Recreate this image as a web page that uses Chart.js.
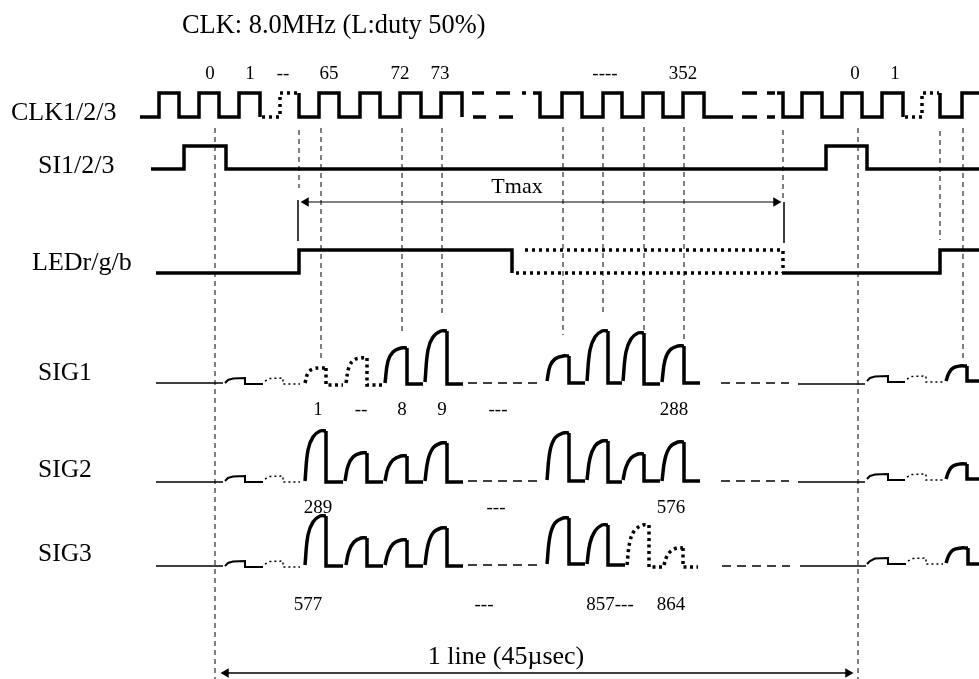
<!DOCTYPE html>
<html lang="en">
<head>
    <meta charset="UTF-8">
    <title>CLK timing</title>
    <script src="https://cdn.jsdelivr.net/npm/chart.js"></script>
    <style>
        html, body { margin: 0; padding: 0; background: #fff; }
        canvas { display: block; }
    </style>
</head>
<body>
    <canvas id="timing" width="979" height="679"></canvas>

    <script>
        // x = time along the sheet, y = level down the sheet (both)
        const clkSolid = [
            [140,117],[159,117],[159,93],[179,93],[179,117],[199,117],[199,93],[219,93],[219,117],[239,117],[239,93],[260,93],[260,117],null,
            [299,93],[299,117],[319,117],[319,93],[339,93],[339,117],[360,117],[360,93],[380,93],[380,117],[400,117],[400,93],[421,93],[421,117],[441,117],[441,93],[462,93],[462,117],null,
            [533,93],[540,93],[540,117],[562,117],[562,93],[582,93],[582,117],[603,117],[603,93],[622,93],[622,117],[643,117],[643,93],[663,93],[663,117],[683,117],[683,93],[704,93],[704,117],[733,117],null,
            [777,93],[783,93],[783,117],[802,117],[802,93],[822,93],[822,117],[842,117],[842,93],[862,93],[862,117],[882,117],[882,93],[903,93],[903,117],null,
            [940,93],[940,117],[962,117],[962,93],[979,93]
        ];
        const clkDash = [
            [472,93],[484,93],null,[473,117],[486,117],null,[496,93],[510,93],null,[499,117],[513,117],null,[522,93],[526,93],null,
            [742,93],[757,93],null,[742,117],[757,117],null,[767,93],[775,93],null,[767,117],[775,117]
        ];
        const clkDots = [
            [262,117],[280,117],[280,93],[298,93],null,
            [905,117],[922,117],[922,93],[939,93]
        ];
        const siLine = [
            [151,169],[184,169],[184,146],[226,146],[226,169],[826,169],[826,146],[867,146],[867,169],[979,169]
        ];
        const ledSolid = [
            [156,273],[299,273],[299,250],[512,250],[512,273],null,
            [783,273],[940,273],[940,250],[979,250]
        ];
        const ledDots = [
            [516,273],[783,273],null,[525,250],[783,250],[783,273]
        ];

        const guideLines = [
            [215,128],[215,679],null,[299,130],[299,188],null,[321,128],[321,360],null,[402,128],[402,335],null,
            [442,128],[442,313],null,[563,127],[563,335],null,[603,127],[603,313],null,[644,127],[644,333],null,
            [684,127],[684,343],null,[783,130],[783,200],null,[858,128],[858,679],null,[940,131],[940,240],null,[963,128],[963,360]
        ];
        const tmaxLine = [[304,202],[778,202]];
        const tmaxBars = [[298,200],[298,241],null,[784,202],[784,243]];
        const lineSpan = [[224,673],[849,673]];
        const arrowLeft = [[306,202],[226,673]];
        const arrowRight = [[776,202],[848,673]];

        const sigBase = [
            [156,383],[223,383],null,[798,384],[865,384],null,
            [156,482],[223,482],null,[798,482],[865,482],null,
            [156,566],[223,566],null,[800,566],[866,566]
        ];
        const sigBaseDash = [
            [468,383],[540,383],null,[721,383],[789,383],null,
            [468,481],[540,481],null,[721,481],[789,481],null,
            [468,565],[540,565],null,[722,566],[790,566]
        ];
        // the low bumps before the first pixel
        const bumpSolid = [
            [225,383],[228,380],[233,378.5],[245,378],[245,384],[263,384],null,
            [867,381],[870,378],[875,376.5],[888,376],[888,382],[905,382],null,
            [225,481],[228,478],[233,476.5],[245,476],[245,482],[263,482],null,
            [867,479],[870,476],[875,474.5],[888,474],[888,480],[905,480],null,
            [225,566],[228,563],[233,561.5],[245,561],[245,567],[263,567],null,
            [867,564],[870,561],[875,558.5],[888,558],[888,564],[906,564]
        ];
        const bumpDots = [
            [265,381],[270,378.5],[283,378],[283,384],[300,384],null,
            [907,379],[912,376.5],[926,376],[926,382],[943,382],null,
            [265,479],[270,476.5],[283,476],[283,482],[300,482],null,
            [907,477],[912,474.5],[926,474],[926,480],[943,480],null,
            [265,564],[270,561.5],[283,561],[283,567],[300,567],null,
            [908,561],[913,558.5],[926,558],[926,564],[943,564]
        ];

        const pulseRise = [
            // SIG1
            [385,383],[388,361],[393,352],[401,348],[407,348],null,
            [425,382],[428,350],[433,337],[441,331],[447,331],null,
            [547,381],[550,366],[555,359],[563,356],[569,356],null,
            [587,381],[590,350],[595,337],[602,331],[608,331],null,
            [623,381],[626,352],[631,339],[638,333],[644,333],null,
            [662,382],[665,360],[670,350],[678,346],[684,346],null,
            [946,381],[949,373],[953,368],[960,366],[967,366],null,
            // SIG2
            [305,481],[308,450],[313,437],[320,431],[326,431],null,
            [345,481],[348,466],[353,457],[361,453],[367,453],null,
            [385,481],[388,468],[393,460],[401,456],[407,456],null,
            [425,481],[428,460],[433,448],[441,443],[447,443],null,
            [547,480],[550,451],[555,438],[563,433],[569,433],null,
            [587,480],[590,458],[595,446],[602,441],[608,441],null,
            [623,480],[626,467],[631,458],[638,454],[644,454],null,
            [662,481],[665,459],[670,447],[678,442],[684,442],null,
            [946,479],[949,471],[953,466],[960,464],[967,464],null,
            // SIG3
            [305,565],[308,535],[313,522],[320,516],[326,516],null,
            [346,565],[349,551],[354,542],[361,538],[367,538],null,
            [385,565],[388,553],[393,544],[401,540],[407,540],null,
            [425,565],[428,545],[433,533],[441,528],[447,528],null,
            [547,564],[550,536],[555,523],[563,518],[569,518],null,
            [587,564],[590,543],[595,531],[602,525],[608,525],null,
            [946,563],[949,555],[953,550],[961,548],[968,548]
        ];
        const pulseFall = [
            [407,348],[407,384],[423,384],null,[447,331],[447,384],[463,384],null,
            [569,356],[569,383],[585,383],null,[608,331],[608,383],[622,383],null,
            [644,333],[644,384],[660,384],null,[684,346],[684,383],[700,383],null,[967,366],[967,381],[979,381],null,
            [326,431],[326,482],[343,482],null,[367,453],[367,482],[383,482],null,
            [407,456],[407,482],[423,482],null,[447,443],[447,482],[463,482],null,
            [569,433],[569,481],[585,481],null,[608,441],[608,482],[622,482],null,
            [644,454],[644,481],[660,481],null,[684,442],[684,481],[700,481],null,[967,464],[967,479],[979,479],null,
            [326,516],[326,566],[343,566],null,[367,538],[367,566],[383,566],null,
            [407,540],[407,566],[423,566],null,[447,528],[447,566],[463,566],null,
            [569,518],[569,564],[585,564],null,[608,525],[608,565],[625,565],null,[968,548],[968,564],[979,564]
        ];
        const dottedRise = [
            [305,383],[308,373],[313,369],[320,368],[326,368],null,
            [346,383],[349,367],[354,360],[361,358],[367,358],null,
            [627,565],[630,541],[635,530],[643,525],[649,525],null,
            [664,565],[667,556],[671,551],[677,548],[683,548]
        ];
        const dottedFall = [
            [326,368],[326,385],[343,385],null,[367,358],[367,385],[383,385],null,
            [649,525],[649,567],[662,567],null,[683,548],[683,567],[698,567]
        ];

        const rowLabels = ['CLK1/2/3', 'SI1/2/3', 'LEDr/g/b', 'SIG1', 'SIG2', 'SIG3'];
        const rowLabelX = [11, 38, 32, 38, 38, 38];
        const rowLabelY = [113, 166, 263, 373, 470, 554];
        const clkTicks = ['0', '1', '--', '65', '72', '73', '----', '352', '0', '1'];
        const clkTickX = [210, 250, 283, 329, 400, 440, 605, 683, 855, 895];
        const pixelTicks = ['1', '--', '8', '9', '---', '288', '289', '---', '576', '577', '---', '857---', '864'];
        const pixelTickX = [318, 361, 402, 442, 498, 674, 318, 496, 671, 308, 484, 610, 671];
        const pixelTickY = [410, 410, 410, 410, 410, 410, 508, 508, 508, 605, 605, 605, 605];

        function pts(list) {
            return list.map(p => p ? { x: p[0], y: p[1] } : { x: null, y: null });
        }
        function trace(list, width, dash, tension) {
            return {
                data: pts(list),
                showLine: true,
                borderColor: '#000',
                backgroundColor: '#000',
                borderWidth: width,
                borderDash: dash || [],
                tension: tension || 0,
                pointRadius: 0,
                borderJoinStyle: 'miter'
            };
        }
        function arrows(list, rot) {
            return {
                data: pts(list),
                showLine: false,
                pointStyle: 'triangle',
                pointRadius: 5.5,
                pointRotation: rot,
                pointBackgroundColor: '#000',
                pointBorderColor: '#000',
                pointBorderWidth: 0
            };
        }

        const textPlugin = {
            id: 'sheetText',
            afterDatasetsDraw(chart) {
                const { ctx, scales } = chart;
                const put = (s, x, y, size, align) => {
                    ctx.font = size + 'px "Liberation Serif"';
                    ctx.textAlign = align;
                    ctx.fillText(s, scales.x.getPixelForValue(x), scales.y.getPixelForValue(y));
                };
                ctx.save();
                ctx.fillStyle = '#000';
                ctx.textBaseline = 'middle';
                put('CLK: 8.0MHz (L:duty 50%)', 182, 26, 26.4, 'left');
                rowLabels.forEach((s, i) => put(s, rowLabelX[i], rowLabelY[i], i > 2 ? 25.5 : 26, 'left'));
                clkTicks.forEach((s, i) => put(s, clkTickX[i], 74, 19, 'center'));
                pixelTicks.forEach((s, i) => put(s, pixelTickX[i], pixelTickY[i], 19, 'center'));
                put('Tmax', 517, 187, 22, 'center');
                put('1 line (45\u00b5sec)', 506, 657, 26, 'center');
                ctx.restore();
            }
        };

        new Chart(document.getElementById('timing'), {
            type: 'scatter',
            data: {
                datasets: [
                    trace(guideLines, 1, [5, 4]),
                    trace(tmaxLine, 1),
                    trace(tmaxBars, 1.5),
                    trace(lineSpan, 1.5),
                    arrows(arrowLeft, -90),
                    arrows(arrowRight, 90),
                    trace(clkSolid, 3.5),
                    trace(clkDash, 3.5),
                    trace(clkDots, 3.5, [3, 4]),
                    trace(siLine, 3.5),
                    trace(ledSolid, 3.5),
                    trace(ledDots, 3.5, [3, 4]),
                    trace(sigBase, 1.5),
                    trace(sigBaseDash, 1.5, [9, 6]),
                    trace(bumpSolid, 2, [], 0),
                    trace(bumpDots, 1.5, [2, 3]),
                    trace(pulseRise, 3.5, [], 0.4),
                    trace(pulseFall, 3.5),
                    trace(dottedRise, 3.5, [3, 3.5], 0.4),
                    trace(dottedFall, 3.5, [3, 3.5])
                ]
            },
            options: {
                responsive: false,
                animation: false,
                events: [],
                layout: { padding: 0, autoPadding: false },
                plugins: { legend: { display: false }, tooltip: { enabled: false } },
                scales: {
                    x: { type: 'linear', min: 0, max: 979, display: false },
                    y: { type: 'linear', min: 0, max: 679, reverse: true, display: false }
                }
            },
            plugins: [textPlugin]
        });
    </script>
</body>
</html>
